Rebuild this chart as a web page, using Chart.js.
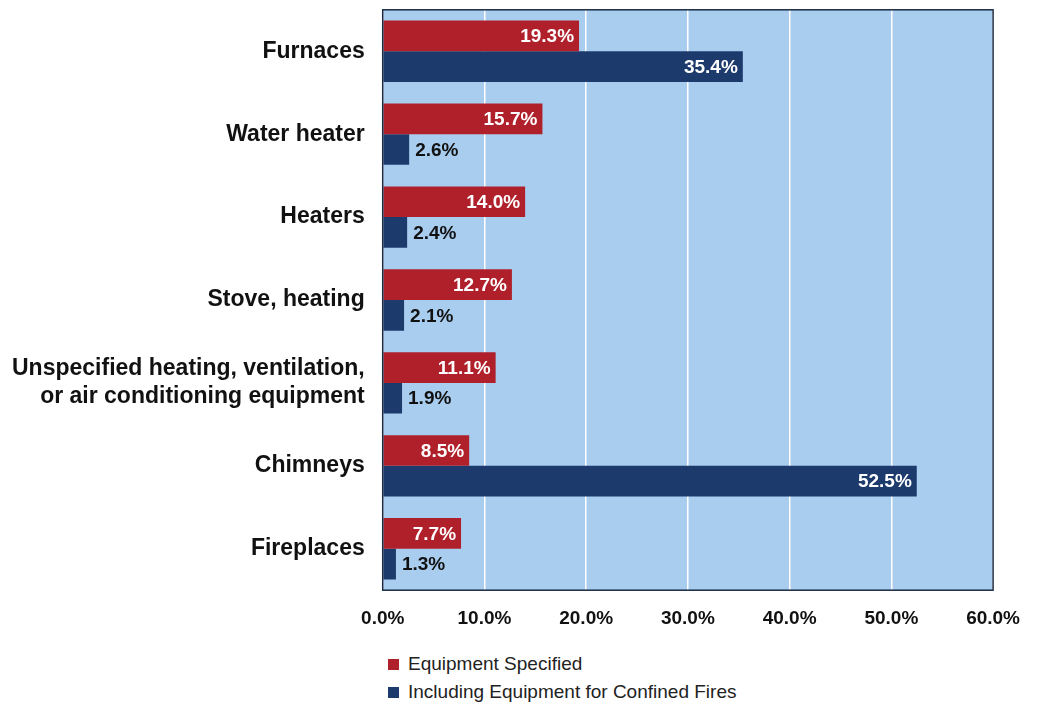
<!DOCTYPE html>
<html>
<head>
<meta charset="utf-8">
<script src="https://cdn.jsdelivr.net/npm/chart.js@4"></script>
<style>
  body { margin: 0; background: #fff; font-family: "Liberation Sans Narrow", "Liberation Sans", sans-serif; overflow: hidden; }
  #wrap { position: relative; width: 1037px; height: 661px; margin-top: -14px; }
  #legend { position: absolute; left: 388px; top: 650px; font-size: 19px; color: #222; }
  #legend div { display: flex; align-items: center; height: 28px; }
  #legend span.box { width: 11px; height: 11px; margin-right: 9px; display: inline-block; }
</style>
</head>
<body>
<div id="wrap"><canvas id="chart"></canvas></div>
<div id="legend">
  <div><span class="box" style="background:#b0202a"></span>Equipment Specified</div>
  <div><span class="box" style="background:#1d3a6c"></span>Including Equipment for Confined Fires</div>
</div>
<script>
const categories = [
    "Furnaces",
    "Water heater",
    "Heaters",
    "Stove, heating",
    ["Unspecified heating, ventilation,", "or air conditioning equipment"],
    "Chimneys",
    "Fireplaces"
];
const equipmentSpecified = [19.3, 15.7, 14.0, 12.7, 11.1, 8.5, 7.7];
const includingConfined = [35.4, 2.6, 2.4, 2.1, 1.9, 52.5, 1.3];

const RED = "#b0202a";
const BLUE = "#1d3a6c";

const plotBackground = {
    id: "plotBackground",
    beforeDraw(chart) {
        const { ctx, chartArea: a } = chart;
        ctx.save();
        ctx.fillStyle = "#a9cdef";
        ctx.fillRect(a.left, a.top, a.right - a.left, a.bottom - a.top);
        ctx.restore();
    },
    afterDraw(chart) {
        const { ctx, chartArea: a } = chart;
        ctx.save();
        ctx.strokeStyle = "#1a2a44";
        ctx.lineWidth = 1.5;
        ctx.strokeRect(a.left, a.top, a.right - a.left, a.bottom - a.top);
        ctx.restore();
    }
};

const barLabels = {
    id: "barLabels",
    afterDatasetsDraw(chart) {
        const { ctx } = chart;
        ctx.save();
        ctx.font = "bold 19px 'Liberation Sans', sans-serif";
        ctx.textBaseline = "middle";
        chart.data.datasets.forEach((ds, di) => {
            chart.getDatasetMeta(di).data.forEach((bar, i) => {
                const v = ds.data[i];
                const text = v.toFixed(1) + "%";
                const w = ctx.measureText(text).width;
                const barLen = bar.x - bar.base;
                if (barLen > w + 10) {
                    ctx.fillStyle = "#fff";
                    ctx.textAlign = "right";
                    ctx.fillText(text, bar.x - 5, bar.y + 1);
                } else {
                    ctx.fillStyle = "#111";
                    ctx.textAlign = "left";
                    ctx.fillText(text, bar.x + 6, bar.y + 1);
                }
            });
        });
        ctx.restore();
    }
};

new Chart(document.getElementById("chart"), {
    type: "bar",
    data: {
        labels: categories,
        datasets: [
            { label: "Equipment Specified", data: equipmentSpecified, backgroundColor: RED },
            { label: "Including Equipment for Confined Fires", data: includingConfined, backgroundColor: BLUE }
        ]
    },
    options: {
        indexAxis: "y",
        responsive: true,
        maintainAspectRatio: false,
        animation: false,
        layout: { padding: { top: 0, right: 40, left: 2, bottom: 0 } },
        datasets: { bar: { barPercentage: 1, categoryPercentage: 0.74 } },
        plugins: { legend: { display: false }, tooltip: { enabled: false } },
        scales: {
            x: {
                min: 0,
                max: 60,
                ticks: {
                    stepSize: 10,
                    callback: v => v.toFixed(1) + "%",
                    color: "#111",
                    font: { family: "'Liberation Sans', sans-serif", size: 19, weight: "bold" },
                    padding: 17
                },
                grid: { color: "#ffffff", lineWidth: 1.5, drawTicks: false },
                border: { display: false }
            },
            y: {
                ticks: {
                    color: "#111",
                    font: { family: "'Liberation Sans Narrow', 'Liberation Sans', sans-serif", size: 23, weight: "bold" },
                    padding: 10
                },
                grid: { display: false },
                border: { display: false }
            }
        }
    },
    plugins: [plotBackground, barLabels]
});
</script>
</body>
</html>
